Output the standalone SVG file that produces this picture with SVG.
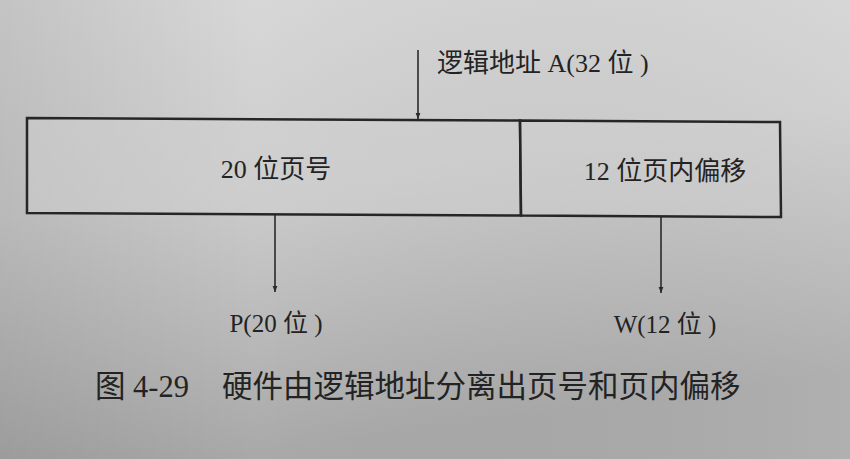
<svg xmlns="http://www.w3.org/2000/svg" width="850" height="459" viewBox="0 0 850 459">
<defs>
<linearGradient id="bg" x1="0" y1="0" x2="0.25" y2="1">
<stop offset="0" stop-color="#d9d9d9"/>
<stop offset="0.45" stop-color="#cdcdcd"/>
<stop offset="1" stop-color="#a9a9a9"/>
</linearGradient>
<linearGradient id="side" x1="0" y1="0" x2="1" y2="0">
<stop offset="0" stop-color="#000" stop-opacity="0.10"/>
<stop offset="0.3" stop-color="#000" stop-opacity="0"/>
<stop offset="1" stop-color="#fff" stop-opacity="0.08"/>
</linearGradient>
<marker id="arr" viewBox="0 0 10 10" refX="10" refY="5" markerWidth="6" markerHeight="10" orient="auto" markerUnits="userSpaceOnUse">
<path d="M0,1 L10,5 L0,9 Z" fill="#2a2a2a"/>
</marker>
<style>
.t{font-family:"Liberation Serif","Noto Sans CJK SC",serif;fill:#232323;}
.box{fill:#d0d0d0;fill-opacity:0.5;stroke:#262626;stroke-width:2.5;}
.ln{stroke:#2a2a2a;stroke-width:1.6;fill:none;}
</style>
</defs>
<rect width="850" height="459" fill="url(#bg)"/>
<rect width="850" height="459" fill="url(#side)"/>
<g id="connectors">
<line class="ln" x1="418" y1="50" x2="418" y2="119" marker-end="url(#arr)"/>
<line class="ln" x1="275" y1="215" x2="275" y2="292" marker-end="url(#arr)"/>
<line class="ln" x1="661" y1="217" x2="661" y2="293" marker-end="url(#arr)"/>
</g>
<g id="label-logical">
<text class="t" x="437" y="72" font-size="26">逻辑地址 A(32 位 )</text>
</g>
<g id="node-page">
<polygon class="box" points="27,118 520,120.6 521,215.6 27,213"/>
<text class="t" x="276" y="178" font-size="26" text-anchor="middle">20 位页号</text>
</g>
<g id="node-offset">
<polygon class="box" points="520,120.6 780,122 781,217 521,215.6"/>
<text class="t" x="665" y="180" font-size="26" text-anchor="middle">12 位页内偏移</text>
</g>
<g id="label-p">
<text class="t" x="276" y="332" font-size="25" text-anchor="middle">P(20 位 )</text>
</g>
<g id="label-w">
<text class="t" x="665" y="333" font-size="25" text-anchor="middle">W(12 位 )</text>
</g>
<g id="caption">
<text class="t" x="95" y="397" font-size="30.5">图 4-29</text>
<text class="t" x="222" y="397" font-size="30.5">硬件由逻辑地址分离出页号和页内偏移</text>
</g>
</svg>
